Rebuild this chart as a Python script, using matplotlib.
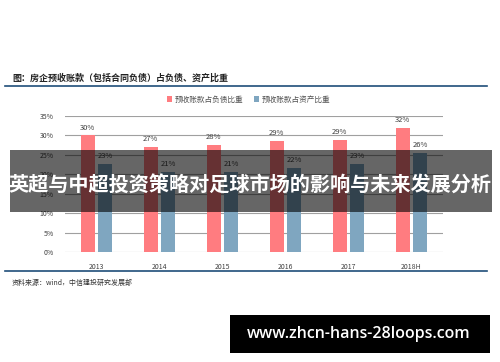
import matplotlib.pyplot as plt
import numpy as np

plt.rcParams['font.family'] = ['Noto Sans CJK SC', 'DejaVu Sans']

# data
years = ["2013", "2014", "2015", "2016", "2017", "2018H"]
share_of_liabilities = [30.0, 27.0, 27.6, 28.6, 28.9, 32.0]
share_of_assets = [22.6, 20.6, 20.7, 21.6, 22.6, 25.6]
yticks = [0, 5, 10, 15, 20, 25, 30, 35]

title = "图：房企预收账款（包括合同负债）占负债、资产比重"
legend_labels = ["预收账款占负债比重", "预收账款占资产比重"]
source = "资料来源：wind，中信建投研究发展部"
banner = "英超与中超投资策略对足球市场的影响与未来发展分析"
site = "www.zhcn-hans-28loops.com"

red = "#FF7C80"
blue = "#7FA6C0"
W, H = 500, 362

fig = plt.figure(figsize=(5, 3.62), dpi=100)
fig.patch.set_facecolor("white")

# chart axes placed in pixel coordinates
ax = fig.add_axes([65 / W, 1 - 252 / H, 378 / W, 136 / H])
x = np.arange(len(years))
bw = 0.22
b1 = ax.bar(x - 0.14, share_of_liabilities, bw, color=red, label=legend_labels[0], zorder=3)
b2 = ax.bar(x + 0.14, share_of_assets, bw, color=blue, label=legend_labels[1], zorder=3)
for bars, vals in ((b1, share_of_liabilities), (b2, share_of_assets)):
    for r, v in zip(bars, vals):
        ax.text(r.get_x() + r.get_width() / 2, v + 1.0, f"{v:.0f}%", ha="center",
                va="bottom", fontsize=5.5, color="#404040")

ax.set_xlim(-0.5, len(years) - 0.5)
ax.set_ylim(0, 35)
ax.set_yticks(yticks)
ax.set_yticklabels([f"{t}%" for t in yticks], fontsize=5, color="#404040")
ax.set_xticks(x)
ax.set_xticklabels(years, fontsize=5, color="#404040")
ax.tick_params(length=0, pad=8)
ax.tick_params(axis="y", pad=8)
ax.grid(axis="y", color="#A0A0A0", linewidth=0.8, zorder=0)
for s in ax.spines.values():
    s.set_visible(False)

ax.legend(loc="lower center", bbox_to_anchor=(0.485, 1.04), ncol=2, frameon=False,
          fontsize=5.5, handlelength=0.7, handleheight=0.7, handletextpad=0.3,
          columnspacing=1.4, labelcolor="#505050")

# title and rules
fig.text(12 / W, 1 - 78 / H, title, fontsize=6.5, fontweight="bold", va="center", color="#222222")
fig.add_artist(plt.Line2D([5 / W, 487 / W], [1 - 86 / H] * 2, color="#1F4E79", linewidth=1.2))
fig.add_artist(plt.Line2D([5 / W, 487 / W], [1 - 271 / H] * 2, color="#1F4E79", linewidth=1.2))
fig.text(12 / W, 1 - 283 / H, source, fontsize=5, style="italic", va="center", color="#333333")

# grey banner over the chart
fig.add_artist(plt.Rectangle((10 / W, 1 - 212 / H), 482 / W, 62 / H, transform=fig.transFigure,
                             facecolor="black", alpha=0.6, zorder=5))
fig.text(250 / W, 1 - 185 / H, banner, fontsize=14.5, fontweight="bold", color="white",
         ha="center", va="center", zorder=6)

# black site box
fig.add_artist(plt.Rectangle((230 / W, 1 - 353 / H), 260 / W, 38 / H, transform=fig.transFigure,
                             facecolor="black", zorder=5))
fig.text(359 / W, 1 - 334 / H, site, fontsize=11.5, fontweight="semibold", color="white",
         ha="center", va="center", zorder=6, family=["Open Sans", "DejaVu Sans"])

fig.savefig("out.png", dpi=100)
